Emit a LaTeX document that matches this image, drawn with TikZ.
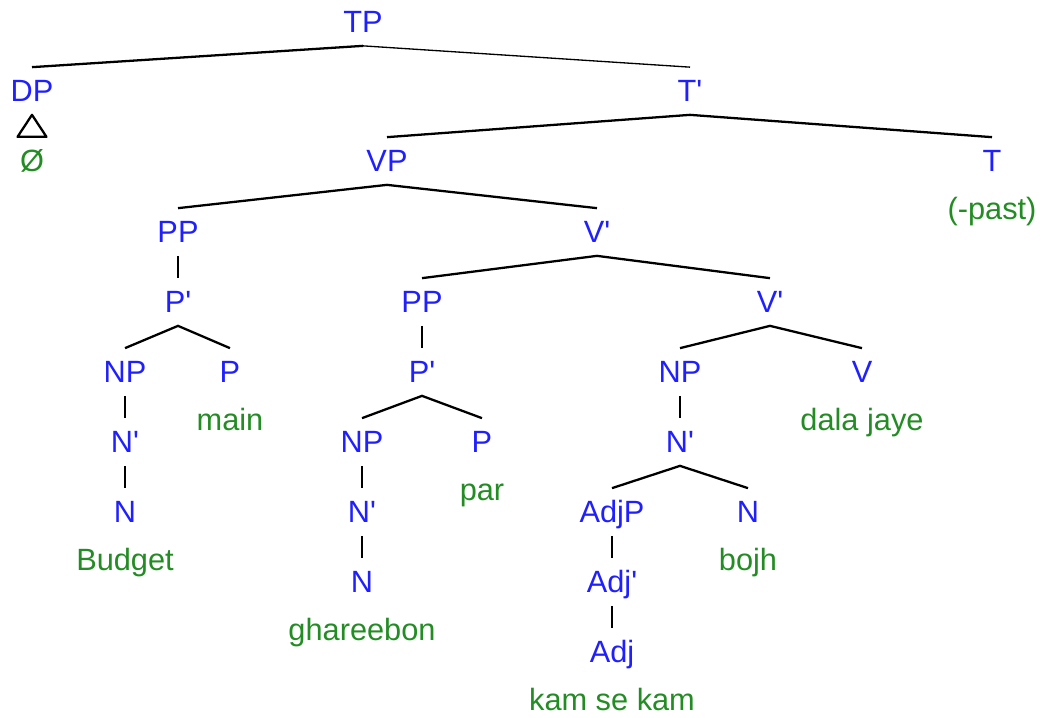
\documentclass[tikz,border=0pt]{standalone}
\usepackage{fontspec}
\setmainfont{Liberation Sans}
\usetikzlibrary{positioning}
\definecolor{catblue}{RGB}{32,32,255}
\definecolor{wordgreen}{RGB}{36,140,36}
\newcommand{\barmark}{\textquotesingle}
\tikzset{
node distance=1.4cm, % vertical distance between two rows of the tree
on grid, % distances are measured between node centres
every node/.style={font=\fontsize{17.5pt}{20pt}\selectfont, inner sep=0pt, text height=12.5pt, text depth=0pt},
cat/.style={text=catblue, minimum height=0.94cm}, % category labels, branches start and end at their borders
word/.style={text=wordgreen}, % the words at the leaves
branch/.style={line width=1.3pt}, % binary branching
unary/.style={line width=0.75pt}, % single daughter
}

\begin{document}
\begin{tikzpicture}
        \useasboundingbox (0,0) rectangle (20.84,-14.34);

        \node[cat] (TP) at (7.26,-0.44) {TP};
        \node[cat, below left=1.38cm and 6.62cm of TP] (DP) {DP};
        \node[cat, below right=1.38cm and 6.54cm of TP] (Tbar) {T\barmark};
        \node[word, below=of DP] (null) {Ø};

        \node[cat, below left=1.4cm and 6.06cm of Tbar] (VP) {VP};
        \node[cat, below right=1.4cm and 6.04cm of Tbar] (T) {T};
        \node[word, below=0.96cm of T] (past) {(-past)};

        \node[cat, below left=1.42cm and 4.18cm of VP] (PP1) {PP};
        \node[cat, below right=1.42cm and 4.2cm of VP] (Vbar1) {V\barmark};
        \node[cat, below=of PP1] (Pbar1) {P\barmark};
        \node[cat, below left=1.4cm and 1.06cm of Pbar1] (NP1) {NP};
        \node[cat, below right=1.4cm and 1.04cm of Pbar1] (P1) {P};
        \node[word, below=0.96cm of P1] (main) {main};
        \node[cat, below=of NP1] (Nbar1) {N\barmark};
        \node[cat, below=of Nbar1] (N1) {N};
        \node[word, below=0.96cm of N1] (budget) {Budget};

        \node[cat, below left=1.4cm and 3.5cm of Vbar1] (PP2) {PP};
        \node[cat, below right=1.4cm and 3.46cm of Vbar1] (Vbar2) {V\barmark};
        \node[cat, below=of PP2] (Pbar2) {P\barmark};
        \node[cat, below left=1.4cm and 1.2cm of Pbar2] (NP2) {NP};
        \node[cat, below right=1.4cm and 1.2cm of Pbar2] (P2) {P};
        \node[word, below=0.96cm of P2] (par) {par};
        \node[cat, below=of NP2] (Nbar2) {N\barmark};
        \node[cat, below=of Nbar2] (N2) {N};
        \node[word, below=0.96cm of N2] (ghareebon) {ghareebon};

        \node[cat, below left=1.4cm and 1.8cm of Vbar2] (NP3) {NP};
        \node[cat, below right=1.4cm and 1.84cm of Vbar2] (V) {V};
        \node[word, below=0.96cm of V] (dala) {dala jaye};
        \node[cat, below=of NP3] (Nbar3) {N\barmark};
        \node[cat, below left=1.4cm and 1.36cm of Nbar3] (AdjP) {AdjP};
        \node[cat, below right=1.4cm and 1.36cm of Nbar3] (N3) {N};
        \node[word, below=0.96cm of N3] (bojh) {bojh};
        \node[cat, below=of AdjP] (Adjbar) {Adj\barmark};
        \node[cat, below=of Adjbar] (Adj) {Adj};
        \node[word, below=0.96cm of Adj] (kam) {kam se kam};

        % branches
        \draw[branch] (TP.south) -- (DP.north);
        \draw[unary] (TP.south) -- (Tbar.north);
        \draw[branch, line join=round] (DP.south) -- ++(-0.29,-0.44) -- ++(0.58,0) -- cycle;
        \draw[branch] (VP.north) -- (Tbar.south) -- (T.north);
        \draw[branch] (PP1.north) -- (VP.south) -- (Vbar1.north);
        \draw[unary] (PP1) edge (Pbar1) (NP1) edge (Nbar1) (Nbar1) edge (N1);
        \draw[branch] (NP1.north) -- (Pbar1.south) -- (P1.north);
        \draw[branch] (PP2.north) -- (Vbar1.south) -- (Vbar2.north);
        \draw[unary] (PP2) edge (Pbar2) (NP2) edge (Nbar2) (Nbar2) edge (N2);
        \draw[branch] (NP2.north) -- (Pbar2.south) -- (P2.north);
        \draw[branch] (NP3.north) -- (Vbar2.south) -- (V.north);
        \draw[unary] (NP3) edge (Nbar3) (AdjP) edge (Adjbar) (Adjbar) edge (Adj);
        \draw[branch] (AdjP.north) -- (Nbar3.south) -- (N3.north);
    \end{tikzpicture}
\end{document}
